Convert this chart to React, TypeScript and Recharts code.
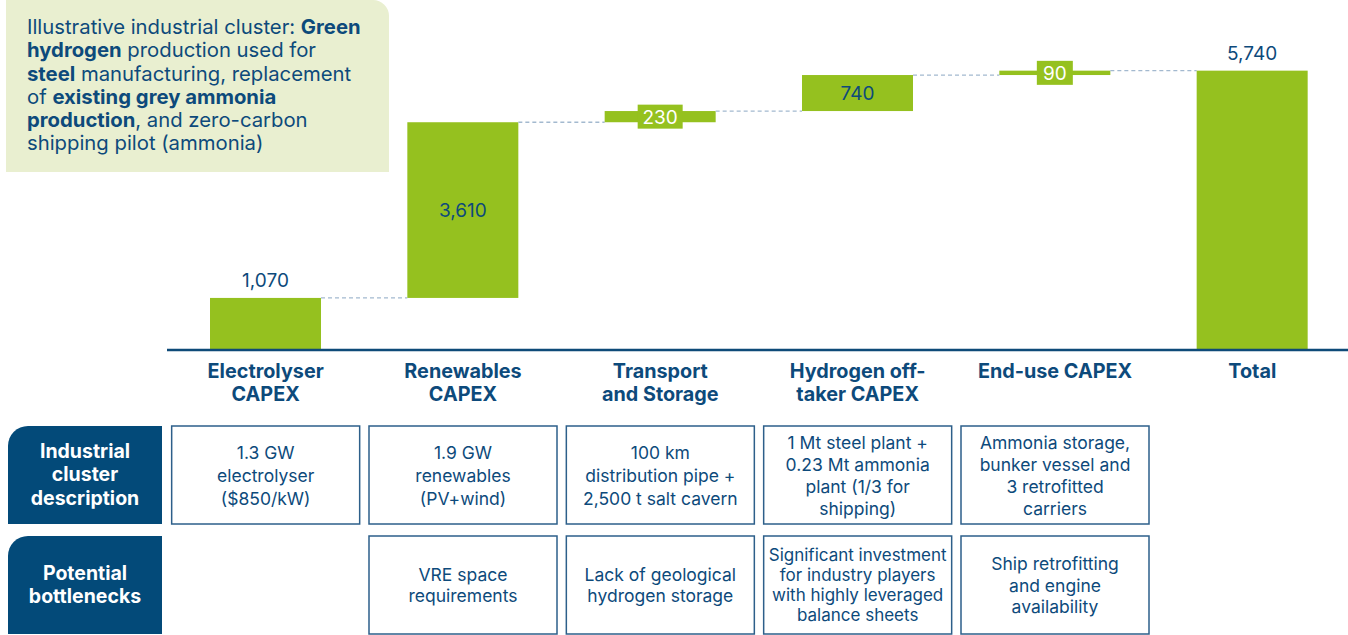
import React from 'react';
import { BarChart, Bar, XAxis, YAxis, LabelList } from 'recharts';

const categories = ['Electrolyser CAPEX', 'Renewables CAPEX', 'Transport and Storage', 'Hydrogen off-taker CAPEX', 'End-use CAPEX', 'Total'];
const categoryLines = [['Electrolyser', 'CAPEX'], ['Renewables', 'CAPEX'], ['Transport', 'and Storage'], ['Hydrogen off-', 'taker CAPEX'], ['End-use CAPEX'], ['Total']];
const values = [1070, 3610, 230, 740, 90, 5740];
const isTotal = [false, false, false, false, false, true];
const descriptionLines = [
  ['1.3 GW', 'electrolyser', '($850/kW)'],
  ['1.9 GW', 'renewables', '(PV+wind)'],
  ['100 km', 'distribution pipe +', '2,500 t salt cavern'],
  ['1 Mt steel plant +', '0.23 Mt ammonia', 'plant (1/3 for', 'shipping)'],
  ['Ammonia storage,', 'bunker vessel and', '3 retrofitted', 'carriers'],
  [],
];
const bottleneckLines = [
  [],
  ['VRE space', 'requirements'],
  ['Lack of geological', 'hydrogen storage'],
  ['Significant investment', 'for industry players', 'with highly leveraged', 'balance sheets'],
  ['Ship retrofitting', 'and engine', 'availability'],
  [],
];
const rowHeaders = [['Industrial', 'cluster', 'description'], ['Potential', 'bottlenecks']];

// build waterfall table
let running = 0;
const data = categories.map((name, i) => {
  const base = isTotal[i] ? 0 : running;
  if (!isTotal[i]) running += values[i];
  return { name, base, value: values[i] };
});

const W = 1348;
const H = 635;
const M = { top: 58, right: -3, left: 167, bottom: 0 };
const XAXIS_H = 285;
const STEP = (W - M.left - M.right) / categories.length;

const GREEN = '#95c11f';
const NAVY = '#0d4a7b';
const HEADER = '#034a79';
const BORDER = '#2d5f8a';
const DASH = '#a3b9cf';
const FONT = 'Inter, "Noto Sans", sans-serif';

const fmt = (v: number) => v.toLocaleString('en-US');

const StepBar = (props: any) => {
  const { x, y, width, height, index } = props;
  const last = index === categories.length - 1;
  return (
    <g>
      <rect x={x} y={y} width={width} height={height} fill={GREEN} />
      {!last && (
        <line x1={x + width} x2={x + STEP} y1={y} y2={y} stroke={DASH} strokeWidth={1.3} strokeDasharray="4 3" />
      )}
    </g>
  );
};

const ValueLabel = (props: any) => {
  const vb = props.viewBox || props;
  const x = Number(props.x ?? vb.x);
  const y = Number(props.y ?? vb.y);
  const width = Number(props.width ?? vb.width);
  const height = Number(props.height ?? vb.height);
  const index = props.index;
  const d = data[index];
  const text = fmt(d.value);
  const cx = x + width / 2;
  if (d.base === 0) {
    return (
      <text x={cx} y={y - 17} textAnchor="middle" dominantBaseline="central" fontFamily={FONT} fontSize={19} fill={NAVY}>
        {text}
      </text>
    );
  }
  const cy = y + height / 2;
  if (height < 30) {
    const bw = text.length * 9 + 18;
    return (
      <g>
        <rect x={cx - bw / 2} y={cy - 12} width={bw} height={24} fill={GREEN} />
        <text x={cx} y={cy + 1} textAnchor="middle" dominantBaseline="central" fontFamily={FONT} fontSize={19} fill="#ffffff">
          {text}
        </text>
      </g>
    );
  }
  return (
    <text x={cx} y={cy} textAnchor="middle" dominantBaseline="central" fontFamily={FONT} fontSize={19} fill={NAVY}>
      {text}
    </text>
  );
};

const Cell = ({ cx, top, lines, lh, fs }: { cx: number; top: number; lines: string[]; lh: number; fs: number }) => {
  const cw = 188;
  const ch = 98;
  const mid = top + ch / 2;
  const start = mid - ((lines.length - 1) * lh) / 2;
  return (
    <g>
      <rect x={cx - cw / 2} y={top} width={cw} height={ch} fill="#ffffff" stroke={BORDER} strokeWidth={1.5} />
      {lines.map((t, k) => (
        <text key={k} x={cx} y={start + k * lh} textAnchor="middle" dominantBaseline="central" fontFamily={FONT} fontSize={fs} fill={NAVY}>
          {t}
        </text>
      ))}
    </g>
  );
};

const CategoryTick = (props: any) => {
  const { x, y, payload } = props;
  let i = payload && typeof payload.index === 'number' ? payload.index : categories.indexOf(payload.value);
  if (i < 0) i = categories.indexOf(payload.value);
  const lines = categoryLines[i] || [payload.value];
  const desc = descriptionLines[i] || [];
  const bott = bottleneckLines[i] || [];
  return (
    <g>
      {lines.map((t, k) => (
        <text key={k} x={x} y={y + 21 + k * 23} textAnchor="middle" dominantBaseline="central" fontFamily={FONT} fontSize={19.8} fontWeight={700} fill={NAVY}>
          {t}
        </text>
      ))}
      {desc.length > 0 && <Cell cx={x} top={y + 76} lines={desc} lh={desc.length > 3 ? 22 : 23} fs={17.5} />}
      {bott.length > 0 && <Cell cx={x} top={y + 186} lines={bott} lh={bott.length > 3 ? 20 : 21.5} fs={bott.length > 3 ? 17 : 17.5} />}
    </g>
  );
};

const B = ({ children }: { children: React.ReactNode }) => <b style={{ fontWeight: 700 }}>{children}</b>;

export default function App() {
  return (
    <div style={{ position: 'absolute', left: 0, top: 0, width: W, height: H, background: '#ffffff', fontFamily: FONT, overflow: 'hidden' }}>
      <div
        style={{
          position: 'absolute',
          left: 6,
          top: 0,
          width: 383,
          height: 172,
          background: '#e9efd0',
          borderTopRightRadius: 16,
        }}
      />
      <div
        style={{
          position: 'absolute',
          left: 27,
          top: 15,
          width: 360,
          fontSize: 20.3,
          lineHeight: '23.3px',
          color: NAVY,
          whiteSpace: 'nowrap',
        }}
      >
        Illustrative industrial cluster: <B>Green</B>
        <br />
        <B>hydrogen</B> production used for
        <br />
        <B>steel</B> manufacturing, replacement
        <br />
        of <B>existing grey ammonia</B>
        <br />
        <B>production</B>, and zero-carbon
        <br />
        shipping pilot (ammonia)
      </div>
      {rowHeaders.map((lines, r) => {
        const top = r === 0 ? 426 : 536;
        return (
          <div
            key={r}
            style={{
              position: 'absolute',
              left: 8,
              top,
              width: 154,
              height: 98,
              background: HEADER,
              borderTopLeftRadius: 20,
              color: '#ffffff',
              fontWeight: 700,
              fontSize: 19.5,
              lineHeight: '23.5px',
              display: 'flex',
              flexDirection: 'column',
              alignItems: 'center',
              justifyContent: 'center',
              textAlign: 'center',
            }}
          >
            {lines.map((t, k) => (
              <div key={k}>{t}</div>
            ))}
          </div>
        );
      })}
      <div style={{ position: 'absolute', left: 0, top: 0 }}>
        <BarChart width={W} height={H} data={data} margin={M} barSize={111}>
          <YAxis hide width={0} domain={[0, 6000]} />
          <XAxis
            dataKey="name"
            interval={0}
            height={XAXIS_H}
            tickLine={false}
            tickSize={0}
            tickMargin={0}
            axisLine={{ stroke: '#0e4a78', strokeWidth: 2.5 }}
            tick={<CategoryTick />}
          />
          <Bar dataKey="base" stackId="w" fill="transparent" isAnimationActive={false} />
          <Bar dataKey="value" stackId="w" fill={GREEN} shape={<StepBar />} isAnimationActive={false}>
            <LabelList dataKey="value" content={<ValueLabel />} />
          </Bar>
        </BarChart>
      </div>
    </div>
  );
}
